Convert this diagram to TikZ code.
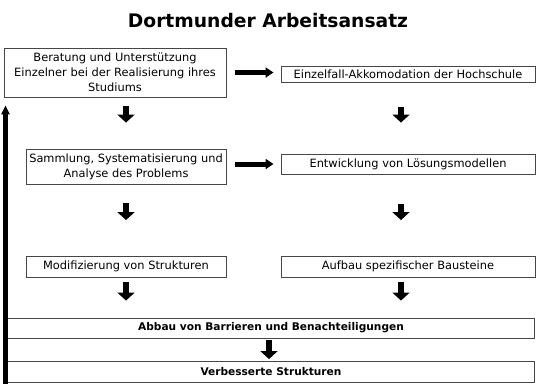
\documentclass[tikz,border=0pt]{standalone}
\usepackage{fontspec}
\setmainfont{DejaVu Sans}
\usepackage{tikz}
\usetikzlibrary{arrows.meta}
\definecolor{rahmen}{RGB}{70,70,70}

\begin{document}
\begin{tikzpicture}[x=1pt, y=-1pt,
    box/.style={draw=rahmen, line width=0.9pt, inner sep=0pt, align=center,
        font=\fontsize{11.4}{14.8}\selectfont},
    fettbox/.style={box, font=\fontsize{10.6}{12}\selectfont\bfseries},
    blockpfeil/.style={line width=6.5pt, -{Triangle[width=17pt, length=8pt]}},
    querpfeil/.style={line width=5pt, -{Triangle[width=10pt, length=8pt]}},
    rueckpfeil/.style={line width=4.5pt, -{Triangle[width=8pt, length=9pt]}}]
    \useasboundingbox (0,0) rectangle (543,384);

    % title
    \node[font=\fontsize{18.7}{22}\selectfont\bfseries] (titel) at (268,20.5) {Dortmunder Arbeitsansatz};

    % left column
    \node[box, minimum width=222pt, minimum height=49pt] (beratung) at (115,72.5)
        {Beratung und Unterstützung\\Einzelner bei der Realisierung ihres\\Studiums};
    \node[box, minimum width=200pt, minimum height=35pt] (sammlung) at (126,167)
        {Sammlung, Systematisierung und\\Analyse des Problems};
    \node[box, minimum width=200pt, minimum height=21pt] (modifizierung) at (126,266.5)
        {Modifizierung von Strukturen};

    % right column
    \node[box, minimum width=254pt, minimum height=16pt] (einzelfall) at (408,74.5)
        {Einzelfall-Akkomodation der Hochschule};
    \node[box, minimum width=254pt, minimum height=20pt] (entwicklung) at (408,164)
        {Entwicklung von Lösungsmodellen};
    \node[box, minimum width=254pt, minimum height=21pt] (aufbau) at (408,266.5)
        {Aufbau spezifischer Bausteine};

    % bottom rows
    \node[fettbox, minimum width=527pt, minimum height=20pt] (abbau) at (271,328)
        {Abbau von Barrieren und Benachteiligungen};
    \node[fettbox, minimum width=527pt, minimum height=21pt] (verbessert) at (271,372)
        {Verbesserte Strukturen};

    % arrows across
    \draw[querpfeil, shorten <=9pt, shorten >=7pt] (beratung.east) -- (beratung.east -| einzelfall.west);
    \draw[querpfeil, shorten <=9pt, shorten >=7pt] (sammlung.east |- entwicklung.west) -- (entwicklung.west);

    % arrows down
    \draw[blockpfeil, shorten <=9pt, shorten >=26.5pt] (beratung.south -| sammlung.north) -- (sammlung.north);
    \draw[blockpfeil, shorten <=18.5pt, shorten >=35.5pt] (sammlung.south) -- (modifizierung.north);
    \draw[blockpfeil, shorten <=5pt, shorten >=17pt] (modifizierung.south) -- (modifizierung.south |- abbau.north);
    \draw[blockpfeil, shorten <=24pt, shorten >=31pt] ([xshift=-7pt]einzelfall.south) -- ([xshift=-7pt]entwicklung.north);
    \draw[blockpfeil, shorten <=29.5pt, shorten >=35.5pt] ([xshift=-7pt]entwicklung.south) -- ([xshift=-7pt]aufbau.north);
    \draw[blockpfeil, shorten <=5pt, shorten >=17pt] ([xshift=-7pt]aufbau.south) -- ([xshift=-7pt]aufbau.south |- abbau.north);
    \draw[blockpfeil, shorten <=2pt, shorten >=2pt] ([xshift=-2pt]abbau.south) -- ([xshift=-2pt]verbessert.north);

    % feedback line
    \coordinate (unten) at (5.5,384);
    \draw[rueckpfeil, shorten >=8pt] (unten) -- (unten |- beratung.south);
\end{tikzpicture}
\end{document}
